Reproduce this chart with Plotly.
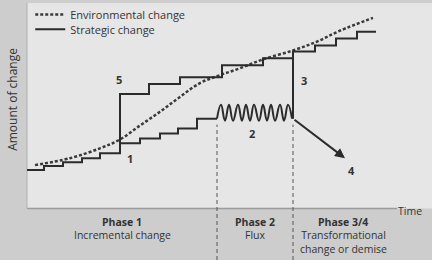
import plotly.graph_objects as go

# ---- data (x = time, y = amount of change; origin at the axes corner) ----
low_x = [0, 17, 36, 55, 73, 93, 113, 133, 151, 170, 190]
low_y = [39, 43, 47, 51, 56, 66, 71, 76, 81, 91, 91]

wave_x = [190, 194, 198, 202, 206, 211, 215, 219, 223, 227, 232, 236, 240, 244, 248, 253, 257, 261, 265]
wave_y = [91, 105, 89, 105, 89, 105, 89, 105, 89, 105, 89, 105, 89, 105, 89, 105, 89, 105, 91]

jump_x = [266, 266]
jump_y = [91, 152]

up_x = [93, 93, 122, 153, 195, 236, 266, 288, 309, 330, 349]
up_y = [56, 116, 126, 133, 145, 152, 159, 165, 172, 179, 179]

env_x = [8, 43, 73, 93, 113, 133, 153, 173, 193, 213, 236, 266, 290, 313, 346]
env_y = [44, 51, 61, 70, 84, 98, 113, 127, 135, 142, 151, 160, 169, 180, 193]

phase_x = [190, 266]          # phase boundaries
decline_from = (266, 91)      # start of demise arrow
decline_to = (318, 51)        # end of demise arrow

labels = ["5", "1", "2", "3", "4"]
label_x = [92, 103, 225, 277, 324]
label_y = [131, 51, 76, 130, 39]

phase_titles = ["Phase 1", "Phase 2", "Phase 3/4"]
phase_desc = ["Incremental change", "Flux", "Transformational<br>change or demise"]
phase_cx = [95, 228, 316]

LINE = "#2b2b2b"
TXT = "#333333"
FONT = "Open Sans"

fig = go.Figure()
fig.add_trace(go.Scatter(x=env_x, y=env_y, mode="lines", name="Environmental change",
                         legend="legend",
                         line=dict(color="#3a3a3a", width=2.5, dash="3px,2px", shape="spline")))
fig.add_trace(go.Scatter(x=low_x, y=low_y, mode="lines", name="Strategic change",
                         legend="legend2",
                         line=dict(color=LINE, width=2, shape="hv")))
fig.add_trace(go.Scatter(x=wave_x, y=wave_y, mode="lines", showlegend=False,
                         line=dict(color=LINE, width=2, shape="spline", smoothing=1.3)))
fig.add_trace(go.Scatter(x=jump_x, y=jump_y, mode="lines", showlegend=False,
                         line=dict(color=LINE, width=2)))
fig.add_trace(go.Scatter(x=up_x, y=up_y, mode="lines", showlegend=False,
                         line=dict(color=LINE, width=2, shape="hv")))

shapes = [
    dict(type="rect", x0=0, x1=405, y0=0, y1=208, layer="below",
         fillcolor="#e6e6e6", line=dict(width=0)),
    dict(type="line", x0=0, x1=370, y0=0, y1=0, layer="below",
         line=dict(color="#9c9c9c", width=1.5)),
    dict(type="line", x0=0, x1=0, y0=0, y1=208, layer="below",
         line=dict(color="#b0b0b0", width=1)),
]
for px in phase_x:
    shapes.append(dict(type="line", x0=px, x1=px, y0=-52, y1=85,
                       line=dict(color="#555555", width=1, dash="4px,3px")))

ann = []
for t, x, y in zip(labels, label_x, label_y):
    ann.append(dict(x=x, y=y, text="<b>" + t + "</b>", showarrow=False,
                    font=dict(family=FONT, size=11, color=TXT)))
for t, d, cx in zip(phase_titles, phase_desc, phase_cx):
    ann.append(dict(x=cx, y=-14, text="<b>" + t + "</b>", showarrow=False,
                    font=dict(family=FONT, size=10.5, color=TXT)))
    ann.append(dict(x=cx, y=-18, text=d, showarrow=False, yanchor="top",
                    font=dict(family=FONT, size=10.5, color=TXT)))
ann.append(dict(x=decline_to[0], y=decline_to[1], ax=decline_from[0], ay=decline_from[1],
                xref="x", yref="y", axref="x", ayref="y", text="", showarrow=True,
                arrowhead=2, arrowsize=1, arrowwidth=2, arrowcolor=LINE))
ann.append(dict(x=383, y=-2, text="Time", showarrow=False,
                font=dict(family=FONT, size=10.5, color=TXT)))
ann.append(dict(x=-14, y=110, text="Amount of change", showarrow=False, textangle=-90,
                font=dict(family=FONT, size=12, color=TXT)))

leg_common = dict(x=0.07, xanchor="left", yanchor="top", bgcolor="rgba(0,0,0,0)",
                  font=dict(family=FONT, size=11, color=TXT), itemwidth=30)
fig.update_layout(
    width=432, height=260, margin=dict(l=0, r=0, t=0, b=0),
    paper_bgcolor="#cdcdcd", plot_bgcolor="#cdcdcd",
    xaxis=dict(range=[-27, 405], visible=False, fixedrange=True),
    yaxis=dict(range=[-52, 208], visible=False, fixedrange=True),
    shapes=shapes, annotations=ann,
    showlegend=True,
    legend=dict(y=1.012, **leg_common),
    legend2=dict(y=0.954, **leg_common),
)
fig.write_html("out.html")
